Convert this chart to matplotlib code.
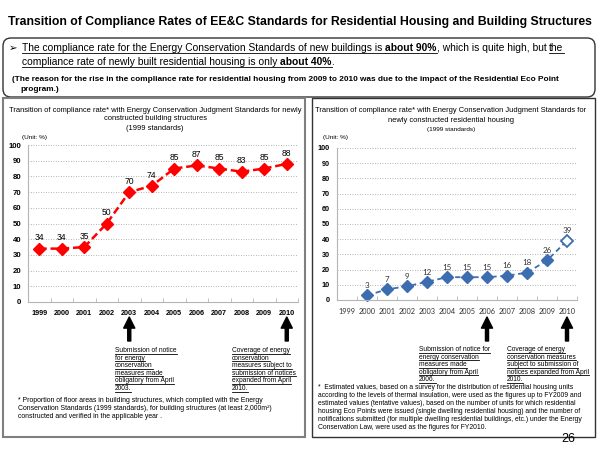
import matplotlib
matplotlib.use('Agg')
import matplotlib.pyplot as plt
from matplotlib.patches import FancyBboxPatch, Rectangle
from matplotlib.lines import Line2D
import numpy as np

# data
years = ['1999', '2000', '2001', '2002', '2003', '2004',
         '2005', '2006', '2007', '2008', '2009', '2010']
buildings = [34, 34, 35, 50, 70, 74, 85, 87, 85, 83, 85, 88]
housing_years = years[1:]
housing = [3, 7, 9, 12, 15, 15, 15, 16, 18, 26, 39]

W, H = 600, 450
plt.rcParams['font.family'] = ['Liberation Sans', 'DejaVu Sans']

fig = plt.figure(figsize=(6, 4.5), dpi=100)
renderer = fig.canvas.get_renderer()


def fx(x):
    return x / W


def fy(y):
    return 1 - y / H


def box(l, t, r, b):
    return [l / W, 1 - b / H, (r - l) / W, (b - t) / H]


def width_of(txt, size, weight='normal'):
    t = fig.text(0, 0, txt, fontsize=size, fontweight=weight)
    w = t.get_window_extent(renderer).width
    t.remove()
    return w


def fit(txt, target, weight='normal'):
    # font size that makes txt about target pixels wide
    return 10 * target / width_of(txt, 10, weight)


def underline(x, y, w):
    fig.add_artist(Line2D([fx(x), fx(x + w)], [fy(y + 1.6)] * 2, color='black', lw=0.6))


def piece_width(txt, size, bold):
    wt = 'bold' if bold else 'normal'
    sp = width_of('a a', size, wt) - width_of('aa', size, wt)
    lead = len(txt) - len(txt.lstrip(' '))
    trail = len(txt) - len(txt.rstrip(' '))
    return width_of(txt.strip(), size, wt) + (lead + trail) * sp, lead * sp


def rich_line(x, y, pieces, size):
    for txt, bold, under in pieces:
        w, lead = piece_width(txt, size, bold)
        fig.text(fx(x + lead), fy(y), txt.strip(), fontsize=size, va='baseline',
                 fontweight='bold' if bold else 'normal')
        if under:
            underline(x, y, w)
        x += w


def note(x, y, lines, size, under=False, step=7.6):
    for i, line in enumerate(lines):
        yy = y + i * step
        fig.text(fx(x), fy(yy), line, fontsize=size, va='baseline')
        if under:
            underline(x, yy, width_of(line, size))


# frames
fig.add_artist(FancyBboxPatch((0.03, (H - 97) / 100), 5.92, 0.59,
                              boxstyle='round,pad=0,rounding_size=0.08',
                              transform=fig.dpi_scale_trans, fc='none', ec='#333333', lw=1))
fig.add_artist(Rectangle((0.03, (H - 437) / 100), 3.02, 3.39, transform=fig.dpi_scale_trans,
                         fc='none', ec='#7f7f7f', lw=1.5))
fig.add_artist(Rectangle((3.12, (H - 437) / 100), 2.83, 3.39, transform=fig.dpi_scale_trans,
                         fc='none', ec='#333333', lw=1))

# title
title = 'Transition of Compliance Rates of EE&C Standards for Residential Housing and Building Structures'
fig.text(0.5, fy(22), title, ha='center', va='center',
         fontsize=fit(title, 584, 'bold'), fontweight='bold')

# header box text
line1 = [('The compliance rate for the Energy Conservation Standards of new buildings is ', False, True),
         ('about 90%', True, True),
         (', which is quite high, but ', False, False),
         ('the', False, True)]
line2 = [('compliance rate of newly built residential housing is only ', False, True),
         ('about 40%', True, True),
         ('.', False, False)]
hsize = 10 * 543 / sum(piece_width(t, 10, b)[0] for t, b, u in line1)
fig.text(fx(9), fy(51), '\u27a2', fontsize=hsize, va='baseline', family=['DejaVu Sans'])
rich_line(22, 51, line1, hsize)
rich_line(22, 65, line2, hsize)
reason = ('(The reason for the rise in the compliance rate for residential housing from 2009 to 2010 '
          'was due to the impact of the Residential Eco Point')
rsize = fit(reason, 546, 'bold')
fig.text(fx(12), fy(81), reason, fontsize=rsize, fontweight='bold', va='baseline')
fig.text(fx(20), fy(91), 'program.)', fontsize=rsize, fontweight='bold', va='baseline')

# panel titles
t1 = 'Transition of compliance rate* with Energy Conservation Judgment Standards for newly'
s1 = fit(t1, 289)
fig.text(fx(155), fy(110), t1, ha='center', va='center', fontsize=s1)
fig.text(fx(155), fy(119), 'constructed building structures', ha='center', va='center', fontsize=s1)
fig.text(fx(155), fy(128), '(1999 standards)', ha='center', va='center', fontsize=s1)
usize = fit('(Unit: %)', 25)
fig.text(fx(22), fy(137), '(Unit: %)', va='center', fontsize=usize)

t2 = 'Transition of compliance rate* with Energy Conservation Judgment Standards for'
s2 = fit(t2, 268)
fig.text(fx(451), fy(111), t2, ha='center', va='center', fontsize=s2)
fig.text(fx(451), fy(120), 'newly constructed residential housing', ha='center', va='center', fontsize=s2)
fig.text(fx(451), fy(130), '(1999 standards)', ha='center', va='center', fontsize=s2 * 0.85)
fig.text(fx(323), fy(138), '(Unit: %)', va='center', fontsize=usize)

# axes
ax1 = fig.add_axes(box(28, 145, 298, 302))
ax2 = fig.add_axes(box(337, 148, 577, 300))
for ax in (ax1, ax2):
    ax.set_xlim(-0.5, 11.5)
    ax.set_ylim(0, 100)
    ax.set_yticks(range(0, 101, 10))
    ax.yaxis.grid(True, linestyle=(0, (1, 2)), color='#9a9a9a', lw=0.6)
    ax.set_axisbelow(True)
    ax.spines[['top', 'right']].set_visible(False)
    ax.spines[['left', 'bottom']].set_color('#b5b5b5')
    ax.set_xticks(range(12))
    ax.set_xticklabels(years)
    ax.set_xticks(np.arange(-0.5, 12, 1), minor=True)
    ax.tick_params(axis='x', which='major', length=0, pad=6)
    ax.tick_params(axis='x', which='minor', length=3, direction='in', color='#b5b5b5')
    ax.tick_params(axis='y', length=0, pad=5)
    ax.patch.set_alpha(0)

for lab in ax1.get_xticklabels():
    lab.set_fontweight('bold')
    lab.set_fontsize(5.2)
for lab in ax1.get_yticklabels():
    lab.set_fontweight('bold')
    lab.set_fontsize(5.6)
for lab in ax2.get_yticklabels():
    lab.set_fontweight('bold')
    lab.set_fontsize(5.2)
for lab in ax2.get_xticklabels():
    lab.set_family(['Lato', 'DejaVu Sans'])
    lab.set_fontsize(5.3)
    lab.set_color('#333333')

# left series
xb = np.arange(len(buildings))
ax1.plot(xb, buildings, color='#ff0000', ls=(0, (3, 1.5)), lw=1.8,
         marker='D', ms=6, mfc='#ff0000', mec='#ff0000', clip_on=False)
for x, v in zip(xb, buildings):
    ax1.annotate(str(v), (x, v), xytext=(0, 4.5), textcoords='offset points',
                 ha='center', va='bottom', fontsize=6.2)

# right series
blue = '#3d6db1'
xh = np.array([years.index(y) for y in housing_years])
ax2.plot(xh, housing, color=blue, ls=(0, (3, 2)), lw=1.3, clip_on=False)
ax2.plot(xh[:-1], housing[:-1], ls='none', marker='D', ms=6.5, mfc=blue, mec=blue, clip_on=False)
ax2.plot(xh[-1:], housing[-1:], ls='none', marker='D', ms=6, mfc='white', mec=blue, mew=1.3)
for x, v in zip(xh, housing):
    ax2.annotate(str(v), (x, v), xytext=(0, 4.5), textcoords='offset points',
                 ha='center', va='bottom', fontsize=5.8, color='#333333', family=['Lato'])

# arrows
for ax, idx in ((ax1, 4), (ax1, 11), (ax2, 7), (ax2, 11)):
    ax.annotate('', xy=(idx, H - 317), xytext=(idx, H - 341),
                xycoords=('data', 'figure pixels'), textcoords=('data', 'figure pixels'),
                arrowprops=dict(width=2.2, headwidth=8, headlength=8, color='black'),
                annotation_clip=False)

# notes
nsize = fit('notices expanded from April', 83)
note(115, 352, ['Submission of notice', 'for energy', 'conservation', 'measures made',
                'obligatory from April', '2003.'], nsize, under=True)
note(232, 352, ['Coverage of energy', 'conservation', 'measures subject to',
                'submission of notices', 'expanded from April', '2010.'], nsize, under=True)
note(419, 351, ['Submission of notice for', 'energy conservation', 'measures made',
                'obligatory from April', '2006.'], nsize, under=True)
note(507, 351, ['Coverage of energy', 'conservation measures', 'subject to submission of',
                'notices expanded from April', '2010.'], nsize, under=True)

foot_l = ['* Proportion of floor areas in building structures, which complied with the Energy',
          'Conservation Standards (1999 standards), for building structures (at least 2,000m\u00b2)',
          'constructed and verified in the applicable year .']
note(18, 402, foot_l, fit(foot_l[0], 245), step=8)
foot_r = ['*  Estimated values, based on a survey for the distribution of residential housing units',
          'according to the levels of thermal insulation, were used as the figures up to FY2009 and',
          'estimated values (tentative values), based on the number of units for which residential',
          'housing Eco Points were issued (single dwelling residential housing) and the number of',
          'notifications submitted (for multiple dwelling residential buildings, etc.) under the Energy',
          'Conservation Law, were used as the figures for FY2010.']
note(318, 389, foot_r, fit(foot_r[1], 263), step=8)

fig.text(fx(575), fy(439), '26', ha='right', va='center', fontsize=9)

fig.savefig('out.png', dpi=100)
